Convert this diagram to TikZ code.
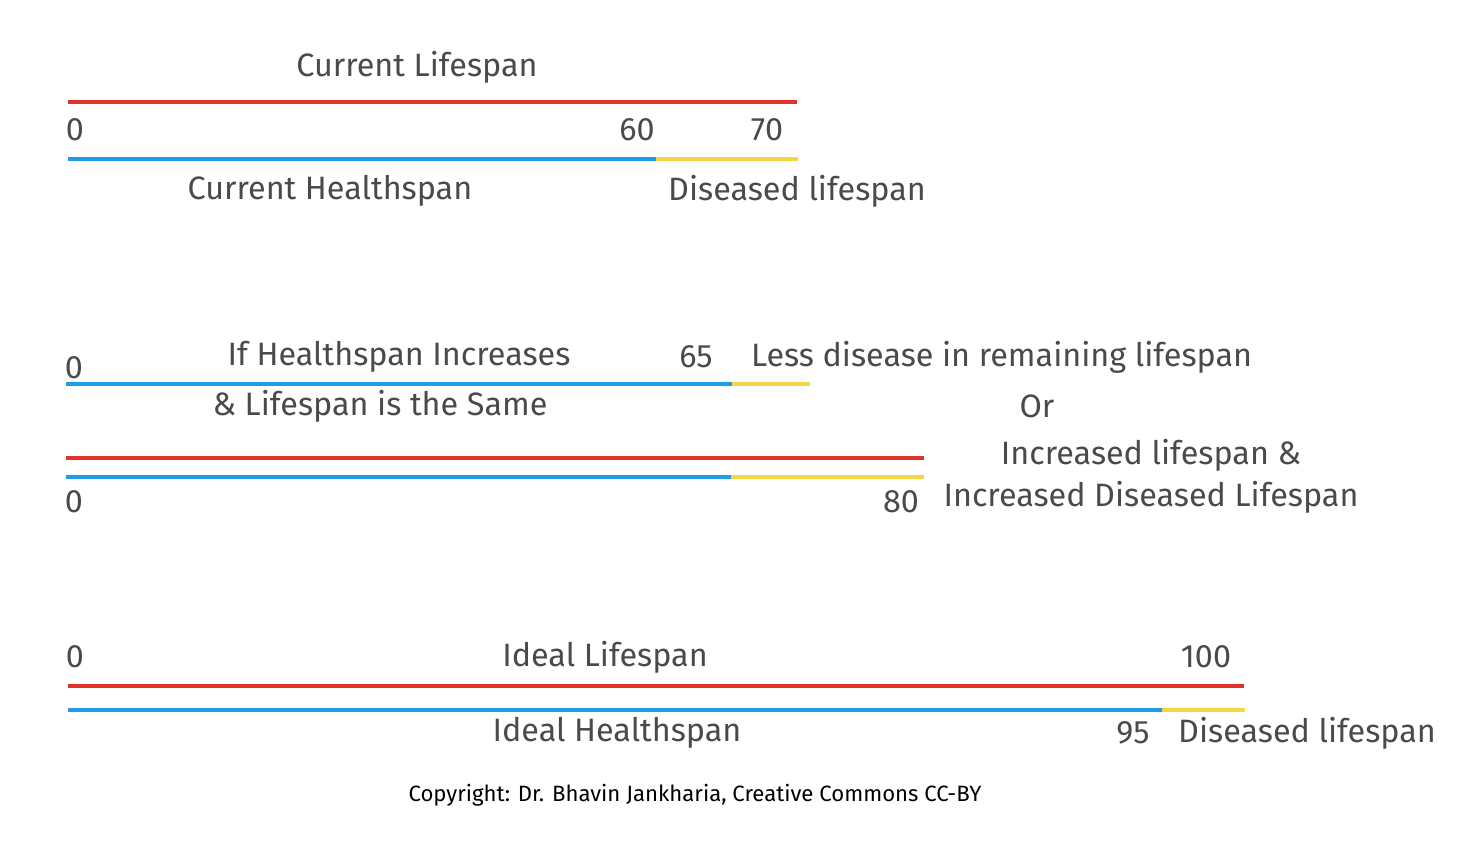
\documentclass[tikz,border=0pt]{standalone}
\usepackage{fontspec}
\setmainfont{Fira Sans}
\usepackage{tikz}
\usetikzlibrary{positioning,calc}
\usepackage{xcolor}
\definecolor{lifered}{HTML}{E0312A}
\definecolor{healthblue}{HTML}{1F9CE8}
\definecolor{diseaseyellow}{HTML}{F5D642}
\definecolor{inkgray}{HTML}{4A4A4A}

\begin{document}
\begin{tikzpicture}[
x=0.01cm,y=-0.01cm,
lab/.style={
  text=inkgray,
  inner sep=1pt,
  font=\fontsize{9.2}{11}\selectfont
},
num/.style={
  lab
},
life/.style={
  draw=lifered,
  line width=1.2pt
},
health/.style={
  draw=healthblue,
  line width=1.2pt
},
disease/.style={
  draw=diseaseyellow,
  line width=1.2pt
}
]
\useasboundingbox (0,0) rectangle (1460,845);

% current
\coordinate (c0) at (68,102);
\coordinate (c70) at (797,102);
\coordinate (h0) at (68,159);
\coordinate (h60) at (656,159);
\coordinate (h70) at (798,159);
\draw[life] (c0) -- (c70);
\draw[health] (h0) -- (h60);
\draw[disease] (h60) -- (h70);

\node[lab] (curlife) at (417,67) {Current Lifespan};
\node[num] (n0a) at (75,130) {0};
\node[num] (n60) at (637,130) {60};
\node[num] (n70) at (767,130) {70};
\node[lab] (curhealth) at (330,191) {Current Healthspan};
\node[lab] (curdis) at (797,191) {Diseased lifespan};

% healthspan increases
\coordinate (s0) at (66,384);
\coordinate (s65) at (732,384);
\coordinate (s70) at (810,384);
\draw[health] (s0) -- (s65);
\draw[disease] (s65) -- (s70);

\node[num] (n0b) at (74,368) {0};
\node[lab] (ifhealth) at (399,357) {If Healthspan Increases};
\node[num] (n65) at (696,357) {65};
\node[lab,anchor=west] (lessdis) at (747,357) {Less disease in remaining lifespan};
\node[lab] (samelife) at (380,406) {\& Lifespan is the Same};
\node[lab] (or) at (1037,406) {Or};

% lifespan increases
\coordinate (l0) at (66,458);
\coordinate (l80) at (924,458);
\coordinate (k0) at (66,477);
\coordinate (k65) at (731,477);
\coordinate (k80) at (924,477);
\draw[life] (l0) -- (l80);
\draw[health] (k0) -- (k65);
\draw[disease] (k65) -- (k80);

\node[num] (n0c) at (74,502) {0};
\node[num] (n80) at (901,502) {80};
\node[lab] (inclife) at (1151,455) {Increased lifespan \&};
\node[lab] (incdis) at (1151,497) {Increased Diseased Lifespan};

% ideal
\coordinate (i0) at (68,686);
\coordinate (i100) at (1244,686);
\coordinate (j0) at (68,710);
\coordinate (j95) at (1162,710);
\coordinate (j100) at (1245,710);
\draw[life] (i0) -- (i100);
\draw[health] (j0) -- (j95);
\draw[disease] (j95) -- (j100);

\node[num] (n0d) at (75,657) {0};
\node[lab] (ideallife) at (605,657) {Ideal Lifespan};
\node[num] (n100) at (1206,657) {100};
\node[lab] (idealhealth) at (617,733) {Ideal Healthspan};
\node[num] (n95) at (1133,733) {95};
\node[lab,anchor=west] (idealdis) at (1174,733) {Diseased lifespan};

\node[lab,text=black,font=\fontsize{6.3}{8}\selectfont] (copy) at (695,795)
  {Copyright: Dr. Bhavin Jankharia, Creative Commons CC-BY};
\end{tikzpicture}
\end{document}
